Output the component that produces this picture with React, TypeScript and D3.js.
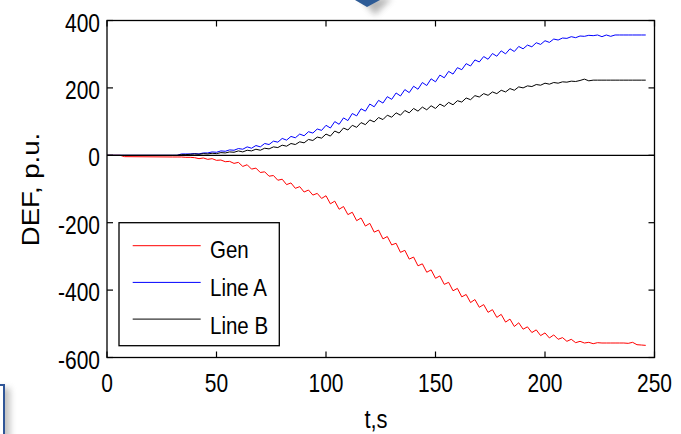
import * as d3 from 'd3'

// time axis, seconds
const time = [
  0, 6, 8, 30, 32, 34, 36, 38,
  40, 42, 44, 46, 48, 50, 52, 54, 56, 58,
  60, 62, 64, 66, 68, 70, 72, 74, 76, 78,
  80, 82, 84, 86, 88, 90, 92, 94, 96, 98,
  100, 102, 104, 106, 108, 110, 112, 114, 116, 118,
  120, 122, 124, 126, 128, 130, 132, 134, 136, 138,
  140, 142, 144, 146, 148, 150, 152, 154, 156, 158,
  160, 162, 164, 166, 168, 170, 172, 174, 176, 178,
  180, 182, 184, 186, 188, 190, 192, 194, 196, 198,
  200, 202, 204, 206, 208, 210, 212, 214, 216, 218,
  220, 222, 224,
  226, 228, 230, 232, 234, 236, 238, 240, 242, 244, 246,
]

const gen = [
  0, 0, -4, -5, -5, -5, -6, -6,
  -7, -10, -8, -12, -10, -15, -14, -19, -18, -24,
  -21, -33, -28, -41, -38, -51, -49, -62, -60, -74,
  -71, -87, -82, -98, -93, -109, -103, -118, -113, -128,
  -120, -144, -136, -160, -152, -176, -169, -194, -186, -210,
  -202, -228, -222, -248, -241, -266, -261, -288, -282, -308,
  -302, -328, -322, -347, -340, -365, -358, -383, -377, -402,
  -395, -420, -413, -437, -428, -451, -443, -466, -458, -481,
  -472, -495, -486, -508, -497, -516, -509, -526, -518, -535,
  -527, -542, -533, -546, -541, -552, -546, -556, -552, -557,
  -555, -559, -556,
  -557, -557, -557, -557, -557, -557, -558, -555, -562, -563, -564,
]

const lineA = [
  0, 0, 0, 0, 0, 4, 4, 4,
  5, 4, 7, 7, 10, 9, 13, 12, 16, 15,
  20, 18, 25, 21, 29, 25, 35, 32, 42, 39,
  50, 45, 56, 52, 63, 58, 70, 66, 78, 74,
  89, 81, 100, 92, 111, 103, 124, 117, 138, 131,
  152, 144, 163, 155, 174, 166, 185, 176, 195, 186,
  205, 196, 216, 207, 227, 218, 238, 230, 249, 241,
  260, 254, 272, 265, 283, 277, 293, 285, 302, 294,
  310, 301, 316, 308, 323, 316, 327, 322, 334, 329,
  340, 335, 345, 342, 348, 347, 352, 349, 354, 353,
  356, 355, 357,
  352, 357, 353, 357, 357, 357, 357, 357, 357, 357, 357,
]

const lineB = [
  0, 0, 0, 0, 0, 2, 2, 3,
  4, 3, 5, 4, 6, 5, 8, 7, 10, 9,
  13, 10, 15, 13, 18, 15, 21, 19, 25, 23,
  30, 27, 35, 32, 40, 37, 47, 44, 54, 51,
  63, 57, 72, 66, 81, 75, 89, 83, 97, 91,
  105, 99, 112, 106, 119, 113, 126, 119, 133, 126,
  139, 131, 143, 135, 147, 139, 152, 145, 157, 150,
  162, 158, 170, 165, 177, 173, 183, 178, 188, 183,
  193, 188, 198, 193, 203, 200, 206, 204, 210, 208,
  214, 211, 216, 214, 218, 217, 220, 219, 222, 226,
  221, 223, 223,
  223, 223, 223, 223, 223, 223, 223, 223, 223, 223, 223,
]

const xTicks = [0, 50, 100, 150, 200, 250]
const yTicks = [-600, -400, -200, 0, 200, 400]
const seriesNames = ['Gen', 'Line A', 'Line B']
const seriesColors = ['#ff0000', '#0000ff', '#000000']

const font = '"Liberation Sans", Arial, sans-serif'

export default function App() {
  const width = 681, height = 434
  const box = { left: 107, right: 654.5, top: 20.5, bottom: 357.5 }

  const x = d3.scaleLinear().domain([0, 250]).range([box.left, box.right])
  const y = d3.scaleLinear().domain([-600, 400]).range([box.bottom, box.top])

  const series = [gen, lineA, lineB]
  const path = d3.line<number>()
    .x((_, i) => x(time[i]))
    .y(d => y(d))

  const tick = 6

  return (
    <svg width={width} height={height} viewBox={`0 0 ${width} ${height}`}
      style={{ position: 'absolute', left: 0, top: 0, background: '#fff' }}
      fontFamily={font}>
      <defs>
        <filter id="shadow" x="-50%" y="-50%" width="200%" height="200%">
          <feGaussianBlur stdDeviation="3" />
        </filter>
      </defs>
      <rect width={width} height={height} fill="#fff" />

      {/* decorations from the slide behind the chart */}
      <polygon points="360,-2 392,-2 375,15" fill="#888" opacity={0.6} filter="url(#shadow)" />
      <polygon points="355,0 380,0 367,7" fill="#2d5b96" />
      <rect x={-12} y={388} width={22} height={60} fill="#999" opacity={0.6} filter="url(#shadow)" />
      <rect x={-20} y={385} width={24} height={60} fill="#fff" stroke="#2f5597" strokeWidth={2} />

      {/* curves */}
      {series.map((s, i) => (
        <path key={seriesNames[i]} d={path(s) ?? ''} fill="none"
          stroke={seriesColors[i]} strokeWidth={1} />
      ))}

      {/* zero line */}
      <line x1={x(0)} x2={x(250)} y1={y(0)} y2={y(0)} stroke="#000" strokeWidth={1.3} />

      {/* axes box + inward ticks */}
      <rect x={box.left} y={box.top} width={box.right - box.left} height={box.bottom - box.top}
        fill="none" stroke="#000" strokeWidth={1.3} />
      {xTicks.map(v => (
        <g key={'x' + v} stroke="#000" strokeWidth={1.2}>
          <line x1={x(v)} x2={x(v)} y1={box.bottom} y2={box.bottom - tick} />
          <line x1={x(v)} x2={x(v)} y1={box.top} y2={box.top + tick} />
        </g>
      ))}
      {yTicks.map(v => (
        <g key={'y' + v} stroke="#000" strokeWidth={1.2}>
          <line x1={box.left} x2={box.left + tick} y1={y(v)} y2={y(v)} />
          <line x1={box.right} x2={box.right - tick} y1={y(v)} y2={y(v)} />
        </g>
      ))}

      {/* tick labels */}
      {xTicks.map(v => (
        <text key={'xl' + v} transform={`translate(${x(v)},391.5) scale(1,1.2)`}
          textAnchor="middle" fontSize={21} fill="#000">{v}</text>
      ))}
      {yTicks.map(v => (
        <text key={'yl' + v} transform={`translate(100,${y(v) + 11}) scale(1,1.2)`}
          textAnchor="end" fontSize={21} fill="#000">{v}</text>
      ))}

      {/* axis labels */}
      <text transform="translate(376,428) scale(1,1.2)" textAnchor="middle" fontSize={22} fill="#000">t,s</text>
      <text transform="translate(38.5,189.5) rotate(-90) scale(1.2,1)" textAnchor="middle"
        fontSize={23} fill="#000">DEF, p.u.</text>

      {/* legend */}
      <rect x={119} y={222.7} width={160.3} height={123} fill="#fff" stroke="#000" strokeWidth={1.3} />
      {seriesNames.map((name, i) => {
        const ly = 245.7 + i * 36.7
        return (
          <g key={'lg' + name}>
            <line x1={132.7} x2={200.7} y1={ly} y2={ly} stroke={seriesColors[i]} strokeWidth={1} />
            <text transform={`translate(210,${257.5 + i * 38.3}) scale(1,1.2)`}
              fontSize={20.5} fill="#000">{name}</text>
          </g>
        )
      })}
    </svg>
  )
}
